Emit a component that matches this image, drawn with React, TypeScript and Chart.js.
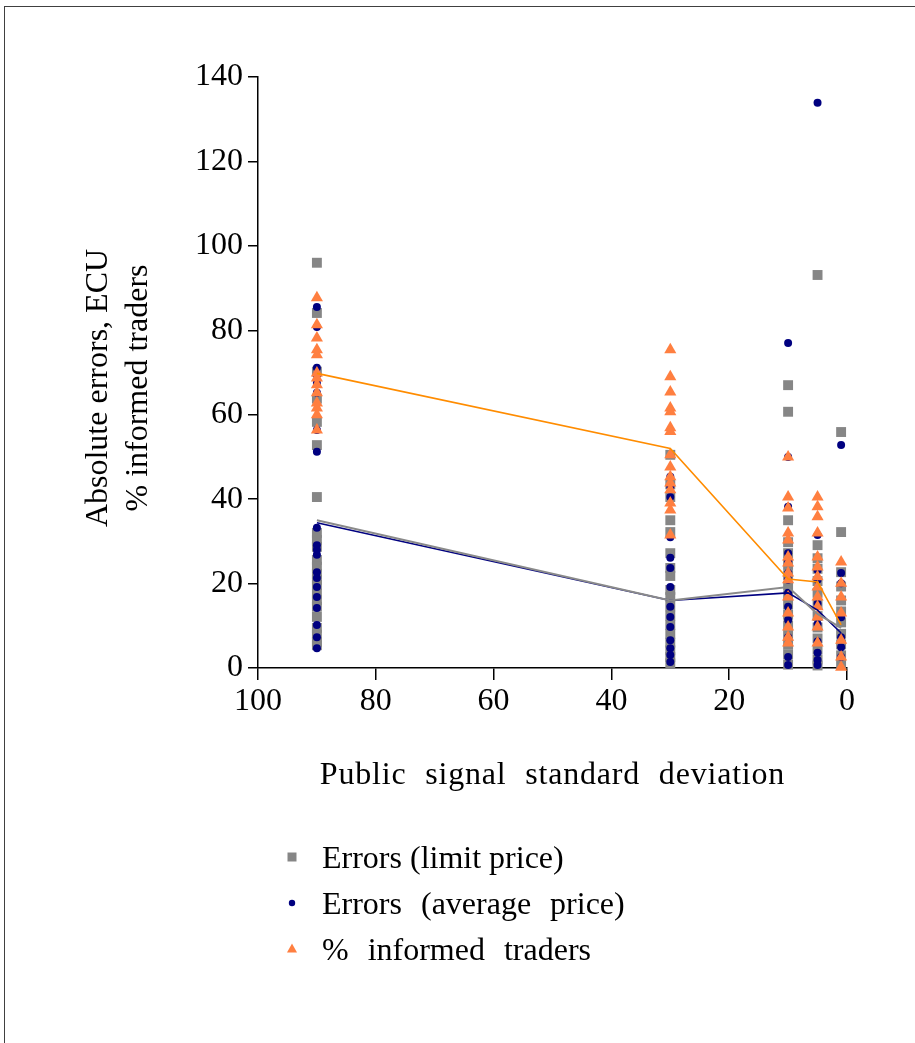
import React, { useEffect, useRef } from "react";
import { Chart, registerables } from "chart.js";

Chart.register(...registerables);

const FONT = "'Liberation Serif', 'Times New Roman', serif";

// Public signal standard deviation levels (x categories)
const xLevels = [90, 30, 10, 5, 1];

const xTitle = "Public signal standard deviation";
const yTitle = ["Absolute errors, ECU", "% informed traders"];
const seriesLabels = ["Errors (limit price)", "Errors (average price)", "% informed traders"];

// Individual observations, one inner array per x level (90, 30, 10, 5, 1)
const limitPriceErrors: number[][] = [
  [96.0, 84.1, 70.2, 63.8, 58.3, 52.8, 40.5, 32.0, 30.3, 28.7, 25.6, 24.0, 22.3, 20.9, 19.7, 17.6, 16.1, 14.5, 12.1, 9.5, 7.9, 6.2, 5.4],
  [50.5, 43.5, 40.5, 35.0, 32.2, 27.2, 23.7, 21.8, 18.5, 16.8, 14.6, 12.4, 10.2, 8.1, 6.0, 4.2, 2.6, 1.1],
  [67.0, 60.7, 35.0, 29.8, 27.2, 24.4, 22.0, 19.5, 17.1, 15.0, 12.6, 10.1, 7.8, 5.5, 3.2, 0.8],
  [93.1, 29.1, 26.0, 23.5, 20.6, 17.8, 15.0, 12.3, 9.6, 7.0, 4.4, 2.0, 0.6],
  [55.9, 32.2, 22.7, 19.3, 16.0, 13.4, 10.8, 8.1, 5.6, 3.0, 1.0],
];

const averagePriceErrors: number[][] = [
  [85.5, 80.8, 71.1, 69.4, 67.5, 65.2, 56.4, 51.2, 33.2, 29.1, 28.0, 26.8, 22.7, 21.3, 19.2, 16.8, 14.2, 10.2, 7.3, 4.7],
  [45.3, 43.0, 40.5, 31.0, 26.1, 23.7, 19.2, 14.5, 12.1, 9.7, 6.6, 4.7, 3.1, 1.4],
  [77.0, 50.0, 38.2, 27.2, 25.1, 22.5, 20.9, 17.8, 14.5, 11.4, 7.3, 2.6, 0.7],
  [133.9, 31.5, 23.2, 20.9, 15.2, 10.4, 6.3, 3.6, 1.9, 0.7],
  [52.8, 22.5, 20.1, 12.0, 7.3, 4.9, 2.6],
];

const informedTraders: number[][] = [
  [87.7, 81.3, 78.2, 75.4, 74.2, 69.9, 68.7, 67.1, 65.2, 62.8, 61.6, 60.0, 56.4],
  [75.4, 69.0, 65.4, 61.6, 60.7, 56.9, 56.0, 50.5, 47.6, 45.3, 43.8, 42.2, 39.1, 37.4, 31.5],
  [50.0, 40.5, 37.9, 32.0, 30.3, 26.3, 24.9, 22.5, 20.9, 16.8, 13.0, 9.7, 7.3, 5.9],
  [40.5, 38.2, 35.8, 32.0, 26.3, 23.9, 21.6, 19.2, 16.8, 14.5, 12.1, 9.7, 5.9],
  [25.1, 20.1, 16.8, 13.0, 6.6, 2.6, 0.2],
];

// Mean lines
const limitPriceMeans = [35.0, 16.0, 19.2, 12.8, 9.5];
const averagePriceMeans = [34.4, 16.0, 17.8, 13.7, 8.3];
const informedMeans = [69.8, 52.0, 21.1, 20.4, 10.2];

const toPoints = (groups: number[][]) =>
  groups.flatMap((vals, i) => vals.map((v) => ({ x: xLevels[i], y: v })));
const toLine = (vals: number[]) => vals.map((v, i) => ({ x: xLevels[i], y: v }));

const textPlugin = {
  id: "titlesAndLegend",
  afterDraw(chart: any) {
    const ctx: CanvasRenderingContext2D = chart.ctx;
    const area = chart.chartArea;
    ctx.save();
    ctx.fillStyle = "#000";
    ctx.font = `32px ${FONT}`;
    ctx.textBaseline = "alphabetic";

    // x-axis title
    ctx.textAlign = "center";
    (ctx as any).letterSpacing = "0.8px";
    (ctx as any).wordSpacing = "10px";
    ctx.fillText(xTitle, (area.left + area.right) / 2, 784);
    (ctx as any).letterSpacing = "0px";
    (ctx as any).wordSpacing = "0px";

    // y-axis title (two rotated lines)
    const baselines = [107, 147];
    yTitle.forEach((line, i) => {
      ctx.save();
      ctx.translate(baselines[i], 388);
      ctx.rotate(-Math.PI / 2);
      ctx.fillText(line, 0, 0);
      ctx.restore();
    });

    // legend
    const items = chart.data.datasets.filter((d: any) => !d.showLine);
    ctx.textAlign = "left";
    items.forEach((d: any, i: number) => {
      const y = 868 + i * 46;
      const cx = 292;
      const cy = y - 11;
      ctx.fillStyle = d.backgroundColor;
      ctx.beginPath();
      if (d.pointStyle === "rect") {
        ctx.rect(cx - 4.5, cy - 4.5, 9, 9);
      } else if (d.pointStyle === "circle") {
        ctx.arc(cx, cy, 3.2, 0, Math.PI * 2);
      } else {
        ctx.moveTo(cx, cy - 5.5);
        ctx.lineTo(cx + 5, cy + 3.5);
        ctx.lineTo(cx - 5, cy + 3.5);
        ctx.closePath();
      }
      ctx.fill();
      ctx.fillStyle = "#000";
      (ctx as any).wordSpacing = i === 0 ? "0px" : "11px";
      ctx.fillText(d.label, 322, y);
    });
    (ctx as any).wordSpacing = "0px";
    ctx.restore();
  },
};

export default function App() {
  const ref = useRef<HTMLCanvasElement>(null);

  useEffect(() => {
    const tickFont = { family: FONT, size: 32 };
    const chart = new Chart(ref.current as HTMLCanvasElement, {
      type: "scatter",
      data: {
        datasets: [
          {
            label: "Mean % informed",
            data: toLine(informedMeans),
            showLine: true,
            borderColor: "#FF8C00",
            borderWidth: 1.6,
            pointRadius: 0,
            order: 0,
          } as any,
          {
            label: "Mean errors (limit price)",
            data: toLine(limitPriceMeans),
            showLine: true,
            borderColor: "#8A8A8A",
            borderWidth: 2,
            pointRadius: 0,
            order: 0,
          },
          {
            label: "Mean errors (average price)",
            data: toLine(averagePriceMeans),
            showLine: true,
            borderColor: "#000080",
            borderWidth: 1.6,
            pointRadius: 0,
            order: 0,
          },
          {
            label: seriesLabels[0],
            data: toPoints(limitPriceErrors),
            pointStyle: "rect",
            pointRadius: 7,
            backgroundColor: "#868686",
            borderWidth: 0,
            clip: false,
            order: 3,
          } as any,
          {
            label: seriesLabels[1],
            data: toPoints(averagePriceErrors),
            pointStyle: "circle",
            pointRadius: 4,
            backgroundColor: "#000080",
            borderWidth: 0,
            clip: false,
            order: 2,
          },
          {
            label: seriesLabels[2],
            data: toPoints(informedTraders),
            pointStyle: "triangle",
            pointRadius: 7,
            backgroundColor: "#FF7F40",
            borderWidth: 0,
            clip: false,
            order: 1,
          },
        ],
      },
      options: {
        responsive: false,
        animation: false,
        events: [],
        layout: { padding: { left: 0, top: 77, right: 68, bottom: 0 } },
        plugins: { legend: { display: false }, tooltip: { enabled: false } },
        scales: {
          x: {
            type: "linear",
            reverse: true,
            min: 0,
            max: 100,
            ticks: { stepSize: 20, font: tickFont, color: "#000", padding: 2 },
            grid: { drawOnChartArea: false, tickLength: 12, color: "#000", lineWidth: 1.5 },
            border: { color: "#000", width: 1.5 },
            afterFit: (s: any) => {
              s.height = 375;
            },
          },
          y: {
            min: 0,
            max: 140,
            ticks: { stepSize: 20, font: tickFont, color: "#000", padding: 5 },
            grid: { drawOnChartArea: false, tickLength: 10, color: "#000", lineWidth: 1.5 },
            border: { color: "#000", width: 1.5 },
            afterFit: (s: any) => {
              s.width = 258;
            },
          },
        },
      },
      plugins: [textPlugin],
    } as any);
    return () => chart.destroy();
  }, []);

  return (
    <div
      style={{
        position: "absolute",
        left: 0,
        top: 0,
        width: 915,
        height: 1043,
        overflow: "hidden",
        background: "#fff",
      }}
    >
      <div
        style={{
          position: "absolute",
          left: 4,
          top: 6,
          width: 1000,
          height: 1100,
          border: "1px solid #404040",
        }}
      />
      <canvas
        ref={ref}
        width={915}
        height={1043}
        style={{ position: "absolute", left: 0, top: 0 }}
      />
    </div>
  );
}
